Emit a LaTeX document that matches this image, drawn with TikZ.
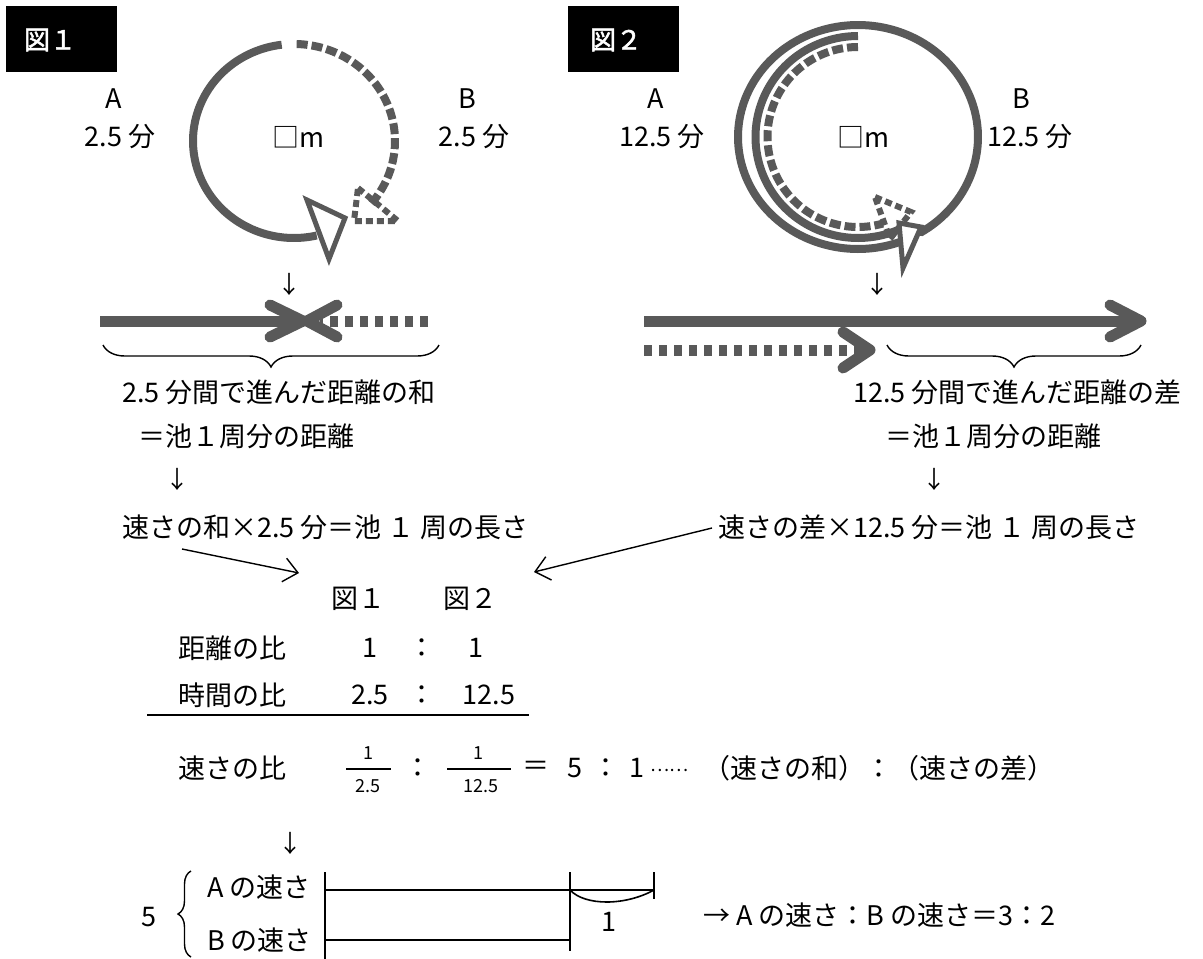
\documentclass[tikz,border=0pt]{standalone}
\usepackage{fontspec}
\setmainfont{Noto Sans CJK JP}
\newfontfamily\jpbold[FakeBold=2]{Noto Sans CJK JP}
\usetikzlibrary{arrows.meta,decorations.pathreplacing}
\definecolor{G}{HTML}{595959}
\begin{document}
\begin{tikzpicture}[x=1pt,y=-1pt,
  ring/.style={line width=8pt, draw=G},
  dring/.style={ring, dash pattern=on 11pt off 4pt},
  fat/.style={line width=11pt, draw=G},
  fatdash/.style={fat, dash pattern=on 8pt off 7pt},
  chev/.style={line width=11pt, draw=G, line cap=round, line join=round},
  ahead/.style={line width=5pt, draw=G, fill=white, line join=miter},
  dhead/.style={line width=6pt, draw=G, dash pattern=on 7pt off 4pt},
  txt/.style={font=\fontsize{27}{32}\selectfont, inner sep=0pt},
  small/.style={font=\fontsize{18}{20}\selectfont, inner sep=0pt},
  arr/.style={font=\fontsize{24}{26}\selectfont, inner sep=0pt},
  thinline/.style={line width=1.4pt, draw=black},
  brc/.style={thinline, decorate, decoration={brace, amplitude=22pt}},
  conn/.style={line width=1.4pt, draw=black, -{Straight Barb[length=14pt,width=24pt,line width=1.4pt]}},
  labelbox/.style={fill=black},
  labeltext/.style={text=white, font=\fontsize{26}{28}\selectfont\jpbold, inner sep=0pt}]
\useasboundingbox (0,0) rectangle (1203,959);

% ---------- figure 1 ----------
\fill[labelbox] (6,6) rectangle (117,72);
\node[labeltext] (f1) at (50,40) {図１};
\node[txt] (a1) at (114,99) {A};
\node[txt] (a1t) at (120,137) {2.5 分};
\node[txt] (b1) at (467,99) {B};
\node[txt] (b1t) at (474,137) {2.5 分};
\node[txt] (m1) at (298,137) {□m};
\draw[dring] plot[domain=-40:89, samples=90, variable=\t] ({294+101*cos(\t)},{141-97*sin(\t)});
\draw[dhead] (358,188) -- (398,221) -- (354,221) -- cycle;
\draw[ring] plot[domain=97:283, samples=90, variable=\t] ({294+101*cos(\t)},{141-97*sin(\t)});
\draw[ahead] (307,200) -- (345,218) -- (329,259) -- cycle;

% ---------- figure 2 ----------
\fill[labelbox] (568,6) rectangle (679,72);
\node[labeltext] (f2) at (616,40) {図２};
\node[txt] (a2) at (656,99) {A};
\node[txt] (a2t) at (662,137) {12.5 分};
\node[txt] (b2) at (1021,99) {B};
\node[txt] (b2t) at (1030,137) {12.5 分};
\node[txt] (m2) at (863,137) {□m};
\draw[dring] plot[domain=90:286, samples=90, variable=\t] ({858+90.5*cos(\t)},{137-90*sin(\t)});
\draw[dhead] (875,197) -- (911,212) -- (890,239) -- cycle;
\draw[ring] plot[domain=90:293, samples=90, variable=\t] ({858+102.5*cos(\t)},{137-101*sin(\t)})
  -- plot[domain=302:652, samples=160, variable=\t] ({858+120*cos(\t)},{137-112*sin(\t)});
\draw[ahead] (899,223) -- (921,227) -- (903,268) -- cycle;

% ---------- line diagrams ----------
\node[arr] (d1) at (289,284) {↓};
\draw[fat] (100,321) -- (298,321);
\draw[chev] (270,305) -- (303,321) -- (270,337);
\draw[fatdash] (428,321) -- (320,321);
\draw[chev] (337,305) -- (307,321) -- (337,337);
\draw[brc] (439,345) -- (103,345);

\node[arr] (d2) at (877,284) {↓};
\draw[fat] (644,321) -- (1134,321);
\draw[chev] (1110,305) -- (1141,321) -- (1110,337);
\draw[fatdash] (644,350) -- (862,350);
\draw[chev] (843,332) -- (870,350) -- (843,368);
\draw[brc] (1141,345) -- (887,345);

% ---------- texts ----------
\node[txt, anchor=west] (s1) at (122,392) {2.5 分間で進んだ距離の和};
\node[txt, anchor=west] (s2) at (138,436) {＝池１周分の距離};
\node[arr] (d3) at (177,479) {↓};
\node[txt, anchor=west] (s3) at (122,527) {速さの和×2.5 分＝池 １ 周の長さ};

\node[txt, anchor=west] (r1) at (853,392) {12.5 分間で進んだ距離の差};
\node[txt, anchor=west] (r2) at (885,436) {＝池１周分の距離};
\node[arr] (d4) at (934,479) {↓};
\node[txt, anchor=west] (r3) at (718,527) {速さの差×12.5 分＝池 １ 周の長さ};

\coordinate (c1s) at (182,549);
\coordinate (c1e) at (299,573);
\coordinate (c2s) at (712,528);
\coordinate (c2e) at (534,572);
\draw[conn] (c1s) -- (c1e);
\draw[conn] (c2s) -- (c2e);

% ---------- ratio table ----------
\node[txt] (h1) at (358,599) {図１};
\node[txt] (h2) at (470,599) {図２};
\node[txt, anchor=west] (k1) at (178,648) {距離の比};
\node[txt] (k1a) at (370,648) {1};
\node[txt] (k1b) at (422,648) {：};
\node[txt] (k1c) at (476,648) {1};
\node[txt, anchor=west] (k2) at (178,695) {時間の比};
\node[txt] (k2a) at (370,695) {2.5};
\node[txt] (k2b) at (422,695) {：};
\node[txt] (k2c) at (489,695) {12.5};
\draw[line width=2pt] (147,715) -- (529,715);

\node[txt, anchor=west] (k3) at (178,768) {速さの比};
\node[small] (n1) at (368,753) {1};
\draw[line width=1.8pt] (346,769) -- (391,769);
\node[small] (q1) at (368,786) {2.5};
\node[txt] (k3b) at (418,768) {：};
\node[small] (n2) at (478,753) {1};
\draw[line width=1.8pt] (447,769) -- (511,769);
\node[small] (q2) at (481,786) {12.5};
\node[txt] (eq) at (536,768) {＝};
\node[txt] (v5) at (575,768) {5};
\node[txt] (vc) at (606,768) {：};
\node[txt] (v1) at (637,768) {1};
\node[font=\fontsize{18}{20}\selectfont, inner sep=0pt, anchor=west] (dots) at (650,770) {……};
\node[txt, anchor=west] (sd) at (703,768) {（速さの和）：（速さの差）};

% ---------- bar diagram ----------
\node[arr] (d5) at (290,843) {↓};
\node[txt] (five) at (149,917) {5};
\draw[thinline, decorate, decoration={brace, amplitude=13pt}] (191,957) -- (191,871);
\node[txt, anchor=west] (sa) at (207,887) {A の速さ};
\node[txt, anchor=west] (sb) at (207,940) {B の速さ};
\draw[line width=2pt] (325,872) -- (325,959);
\draw[line width=2pt] (570,872) -- (570,951);
\draw[line width=2pt] (654,872) -- (654,899);
\draw[line width=2pt] (325,890) -- (654,890);
\draw[line width=2pt] (325,940) -- (570,940);
\draw[line width=1.6pt] (570,890) .. controls (585,906) and (625,906) .. (654,890);
\node[txt] (one) at (609,922) {1};
\node[txt, anchor=west] (res) at (703,915) {→ A の速さ：B の速さ＝3：2};
\end{tikzpicture}
\end{document}
